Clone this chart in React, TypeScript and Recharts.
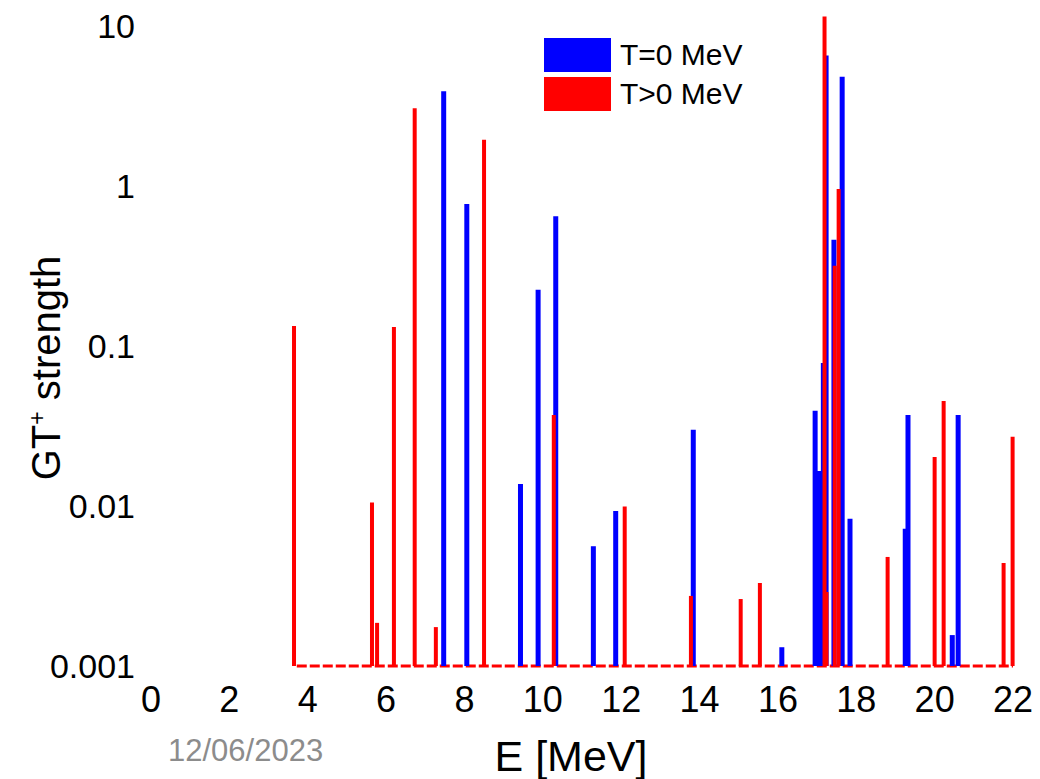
import { ComposedChart, Scatter, ErrorBar, XAxis, YAxis, Legend, ReferenceLine, Label } from 'recharts'

// GT+ strength peaks
const energiesT0 = [7.47, 8.06, 9.43, 9.88, 10.33, 11.29, 11.86, 13.84, 16.1, 16.95, 17.05, 17.16, 17.23, 17.43, 17.64, 17.84, 19.25, 19.32, 20.45, 20.6]
const strengthT0 = [3.9, 0.77, 0.0137, 0.224, 0.646, 0.0056, 0.0093, 0.0299, 0.00131, 0.0393, 0.0165, 0.078, 6.5, 0.46, 4.8, 0.0083, 0.0072, 0.037, 0.00156, 0.037]

const energiesT = [3.65, 5.64, 5.77, 6.2, 6.73, 7.27, 8.5, 10.28, 12.09, 13.78, 15.05, 15.54, 17.19, 17.24, 17.45, 17.55, 18.8, 20.0, 20.23, 21.76, 21.99]
const strengthT = [0.133, 0.0105, 0.00186, 0.131, 3.05, 0.00175, 1.94, 0.037, 0.0099, 0.00274, 0.00262, 0.0033, 11.4, 0.0029, 0.316, 0.955, 0.0048, 0.0202, 0.0453, 0.0044, 0.027]

const xTicks = [0, 2, 4, 6, 8, 10, 12, 14, 16, 18, 20, 22]
const yTicks = [0.001, 0.01, 0.1, 1, 10]

const BASE = 0.001
const FONT = '"Liberation Sans", Arial, sans-serif'

const dataT0 = energiesT0.map((e, i) => ({ e, s: strengthT0[i] }))
const dataT = energiesT.map((e, i) => ({ e, s: strengthT[i] }))

// error bar running from the baseline up to the value = an impulse line
const impulse = (d: any) => {
    const s = d && d.payload && d.payload.s !== undefined ? d.payload.s : d.s
    return [s - BASE, 0]
}

const noDot = () => <g />

const renderLegend = (props: any) => {
    const items = props.payload || []
    return (
        <div style={{ display: 'flex', flexDirection: 'column', gap: 5 }}>
            {items.map((p: any) => (
                <div key={p.value} style={{ display: 'flex', alignItems: 'center' }}>
                    <span style={{ display: 'inline-block', width: 67, height: 34, background: p.color }} />
                    <span style={{ marginLeft: 9, fontSize: 30, fontFamily: FONT, color: '#000' }}>{p.value}</span>
                </div>
            ))}
        </div>
    )
}

export default function App() {
    return (
        <div style={{ position: 'absolute', left: 0, top: 0, width: 1040, height: 779, background: '#fff', fontFamily: FONT }}>
            <ComposedChart width={1040} height={779} margin={{ top: 13, right: 27, left: 0, bottom: 73 }}>
                <XAxis dataKey="e" type="number" domain={[0, 22]} ticks={xTicks} interval={0}
                    axisLine={false} tickLine={false} tickSize={0} tickMargin={20} height={40}
                    tick={{ fontSize: 36, fill: '#000', fontFamily: FONT }}>
                    <Label content={() => (
                        <text x={571} y={771} textAnchor="middle" fontSize={43} fontFamily={FONT} fill="#000">E [MeV]</text>
                    )} />
                </XAxis>
                <YAxis dataKey="s" type="number" scale="log" domain={[BASE, 12]} allowDataOverflow ticks={yTicks} interval={0}
                    axisLine={false} tickLine={false} tickSize={0} tickMargin={16} width={151}
                    tickFormatter={(v: number) => String(v)}
                    tick={{ fontSize: 34, fill: '#000', fontFamily: FONT }}>
                    <Label content={() => (
                        <text transform="translate(60,368) rotate(-90)" textAnchor="middle" fontSize={40} fontFamily={FONT} fill="#000">
                            GT<tspan dy={-15} fontSize={23}>+</tspan><tspan dy={15}> strength</tspan>
                        </text>
                    )} />
                </YAxis>
                <ReferenceLine segment={[{ x: 3.72, y: BASE }, { x: 22, y: BASE }]} stroke="#ff0000" strokeWidth={3} strokeDasharray="10 3" />
                <Scatter name="T=0 MeV" data={dataT0} fill="#0000ff" shape={noDot} isAnimationActive={false}>
                    <ErrorBar dataKey={impulse} direction="y" width={0} strokeWidth={5} stroke="#0000ff" isAnimationActive={false} />
                </Scatter>
                <Scatter name="T>0 MeV" data={dataT} fill="#ff0000" shape={noDot} isAnimationActive={false}>
                    <ErrorBar dataKey={impulse} direction="y" width={0} strokeWidth={4} stroke="#ff0000" isAnimationActive={false} />
                </Scatter>
                <Legend layout="vertical" align="center" verticalAlign="middle" content={renderLegend}
                    wrapperStyle={{ position: 'absolute', top: 38, left: 544, width: 'auto', margin: 0 }} />
            </ComposedChart>
            <div style={{ position: 'absolute', left: 168, top: 733, fontSize: 31, color: '#8c8c8c', fontFamily: FONT }}>12/06/2023</div>
        </div>
    )
}
